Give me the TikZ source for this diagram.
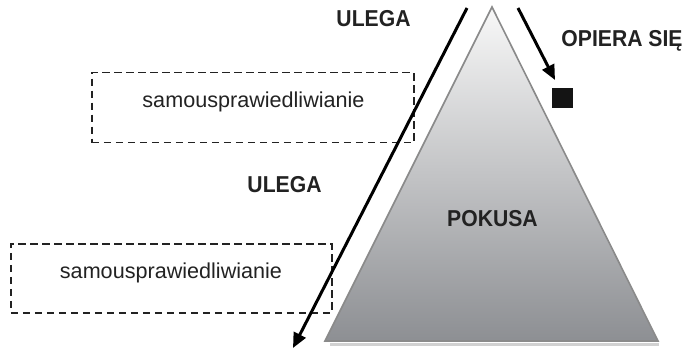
\documentclass[tikz,border=0pt]{standalone}
\usepackage{fontspec}
\setmainfont{Liberation Sans}
\newfontfamily\condb{Liberation Sans Bold}[FakeStretch=0.92]
\usetikzlibrary{arrows.meta}
\definecolor{txt}{HTML}{222222}
\definecolor{tri}{HTML}{8A8A8A}
\definecolor{pyrtop}{HTML}{F8F8F8}
\definecolor{pyrbot}{HTML}{8D8F93}
\tikzset{
  lbl/.style={font=\condb\fontsize{23}{26}\selectfont, text=txt, anchor=base, inner sep=0pt},
  boxtxt/.style={font=\fontsize{21.6}{24}\selectfont, text=txt, anchor=base, inner sep=0pt},
  dbox/.style={draw=txt, line width=1.5pt, dash pattern=on 7.5pt off 4.5pt, inner sep=0pt},
  arr/.style={line width=3pt, -{Triangle[length=15pt,width=13pt]}},
}
\begin{document}
\begin{tikzpicture}[x=1pt,y=-1pt]
\useasboundingbox (0,0) rectangle (691,350);
% pyramid
\coordinate (apex) at (492,7);
\coordinate (bl) at (325,341);
\coordinate (br) at (658,341);
\draw[line width=3pt, draw=black!18] (330,344) -- (659,344);
\shade[top color=pyrtop, bottom color=pyrbot] (apex) -- (br) -- (bl) -- cycle;
\draw[draw=tri, line width=1.6pt, line join=miter] (apex) -- (br) -- (bl) -- cycle;
% boxes
\node[dbox, minimum width=322pt, minimum height=70pt, anchor=north west] (box1) at (91,72) {};
\node[dbox, minimum width=321pt, minimum height=69pt, anchor=north west] (box2) at (10,243) {};
\node[boxtxt] (t1) at (253.5,108) {samousprawiedliwianie};
\node[boxtxt] (t2) at (171,278) {samousprawiedliwianie};
% labels
\node[lbl] (u1) at (373.5,27) {ULEGA};
\node[lbl] (u2) at (284.5,193) {ULEGA};
\node[lbl] (op) at (622,47) {OPIERA SIĘ};
\node[lbl] (pk) at (492.5,226) {POKUSA};
% arrows
\coordinate (a1s) at (467,8);
\coordinate (a1e) at (293,348);
\coordinate (a2s) at (518,8);
\coordinate (a2e) at (555,80);
\draw[arr] (a1s) -- (a1e);
\draw[arr] (a2s) -- (a2e);
% square
\node[fill=black!92, minimum width=21pt, minimum height=20pt, inner sep=0pt, anchor=north west] (sq) at (552,88) {};
\end{tikzpicture}
\end{document}
